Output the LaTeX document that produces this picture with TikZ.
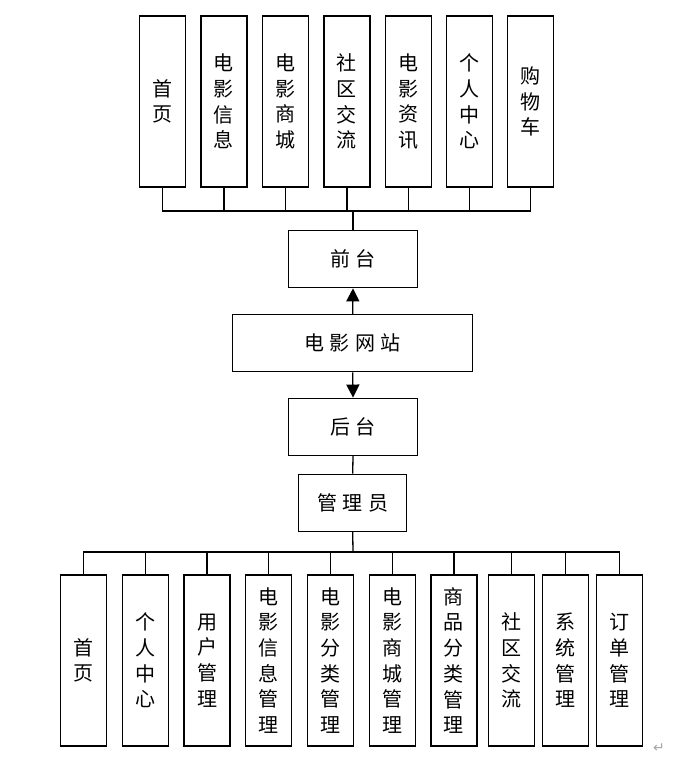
\documentclass[tikz,border=0pt]{standalone}
\usepackage{fontspec}
\newfontfamily\cjk{Noto Sans CJK SC}
\newfontfamily\dejavu{DejaVu Sans}
\usetikzlibrary{arrows.meta}
\newcommand{\gp}{\hspace{5.5pt}}
\tikzset{
  base/.style={draw=black, line width=1.3pt, inner sep=0pt, align=center,
    font={\cjk\fontsize{20}{25.7}\selectfont}},
  vbox/.style={base, minimum width=46pt, minimum height=171pt},
  hbox/.style={base, minimum height=57pt},
  conn/.style={line width=1.3pt},
  arr/.style={line width=1.3pt, -{Triangle[width=13pt,length=13pt]}}
}
\begin{document}
\begin{tikzpicture}[x=1pt,y=-1pt]
\useasboundingbox (0,0) rectangle (685,757);
% top row
\node[vbox] (t1) at (162.3,101.5) {首\\页};
\node[vbox] (t2) at (223.9,101.5) {电\\影\\信\\息};
\node[vbox] (t3) at (285.5,101.5) {电\\影\\商\\城};
\node[vbox] (t4) at (346.9,101.5) {社\\区\\交\\流};
\node[vbox] (t5) at (408.2,101.5) {电\\影\\资\\讯};
\node[vbox] (t6) at (469.5,101.5) {个\\人\\中\\心};
\node[vbox] (t7) at (530.5,101.5) {购\\物\\车};
% middle
\node[hbox, minimum width=128.5pt] (front) at (353,259.2) {前\gp 台};
\node[hbox, minimum width=240pt] (site) at (352.7,343.2) {电\gp 影\gp 网\gp 站};
\node[hbox, minimum width=128.5pt] (back) at (353,426.7) {后\gp 台};
\node[hbox, minimum width=108pt] (admin) at (352.7,502.7) {管\gp 理\gp 员};
% bottom row
\node[vbox] (b1) at (83.5,660.5) {首\\页};
\node[vbox] (b2) at (145.3,660.5) {个\\人\\中\\心};
\node[vbox] (b3) at (207,660.5) {用\\户\\管\\理};
\node[vbox] (b4) at (268.7,660.5) {电\\影\\信\\息\\管\\理};
\node[vbox] (b5) at (330.5,660.5) {电\\影\\分\\类\\管\\理};
\node[vbox] (b6) at (392.2,660.5) {电\\影\\商\\城\\管\\理};
\node[vbox] (b7) at (453.9,660.5) {商\\品\\分\\类\\管\\理};
\node[vbox] (b8) at (511.7,660.5) {社\\区\\交\\流};
\node[vbox] (b9) at (565.5,660.5) {系\\统\\管\\理};
\node[vbox] (b10) at (619.5,660.5) {订\\单\\管\\理};
% buses
\coordinate (bt) at (353,211);
\coordinate (bb) at (353,552);
\draw[conn] (t1.south) |- (bt) -| (t7.south);
\foreach \i in {2,...,6} {\draw[conn] (t\i.south) -- (t\i.south |- bt);}
\draw[conn] (bt) -- (front.north);
\draw[arr] (site.north) -- (front.south);
\draw[arr] (site.south) -- (back.north);
\draw[conn] (back.south) -- (admin.north);
\draw[conn] (admin.south) -- (bb);
\draw[conn] (b1.north) |- (bb) -| (b10.north);
\foreach \i in {2,...,9} {\draw[conn] (b\i.north) -- (b\i.north |- bb);}
% paragraph mark
\node[text=gray!70, font={\dejavu\fontsize{14}{14}\selectfont}, inner sep=0pt] (pm) at (659,748) {↵};
\end{tikzpicture}
\end{document}
